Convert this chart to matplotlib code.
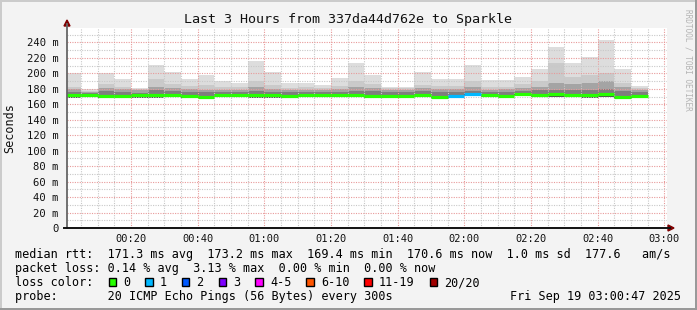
import numpy as np
import matplotlib.pyplot as plt
from matplotlib.patches import Rectangle, Polygon

# --- data (5 minute steps, minutes after 00:00) ---
step_start = np.arange(0, 175, 5)
ping_max = [200.5, 179.5, 200.5, 192.7, 181.0, 210.4, 202.2, 192.7, 198.5, 190.6,
            188.0, 216.4, 202.2, 187.6, 187.0, 184.5, 194.4, 212.8, 198.5, 183.0,
            182.7, 202.4, 192.9, 193.0, 210.6, 191.8, 191.4, 195.8, 206.0, 233.5,
            212.8, 221.8, 243.8, 206.0, 184.0]
ping_2nd = [182.0, 177.5, 186.0, 183.0, 180.0, 192.7, 186.0, 184.0, 185.0, 182.0,
            183.0, 190.0, 185.0, 181.0, 182.0, 181.0, 184.0, 190.4, 186.5, 180.5,
            181.0, 185.0, 184.0, 183.5, 190.0, 182.0, 183.0, 186.0, 190.0, 213.4,
            194.8, 198.0, 200.0, 188.0, 181.0]
ping_upper = [180.0, 176.5, 181.0, 179.5, 178.0, 183.0, 181.0, 180.0, 179.0, 178.5,
              179.0, 182.0, 180.0, 178.0, 178.5, 179.0, 180.0, 182.0, 181.0, 178.5,
              179.0, 181.0, 180.0, 179.5, 182.0, 178.5, 179.5, 181.0, 183.0, 188.0,
              186.0, 187.6, 189.7, 182.4, 179.0]
ping_inner = [176.0, 175.0, 177.0, 176.0, 175.0, 178.0, 177.0, 176.5, 176.0, 175.5,
              175.5, 177.0, 176.5, 175.5, 175.5, 176.0, 176.5, 177.5, 177.0, 175.5,
              176.0, 177.0, 176.5, 176.0, 177.0, 175.5, 176.0, 177.0, 178.0, 179.0,
              178.0, 179.0, 179.5, 177.0, 176.0]
median = [172.2, 171.8, 170.6, 170.6, 171.4, 171.4, 172.6, 170.2, 170.0, 171.8,
          171.6, 171.6, 171.6, 170.8, 171.6, 171.6, 171.6, 171.8, 170.4, 170.4,
          170.6, 172.0, 170.0, 171.2, 173.2, 171.8, 170.8, 172.8, 172.6, 172.8,
          172.4, 171.6, 172.8, 169.4, 170.6]
ping_min = [168.6, 169.0, 168.0, 168.0, 168.8, 168.6, 169.4, 167.8, 167.6, 169.2,
            169.0, 168.8, 168.8, 168.4, 169.0, 169.0, 169.0, 169.0, 168.0, 168.0,
            168.2, 169.4, 167.8, 168.8, 170.4, 169.2, 168.2, 170.2, 169.8, 170.0,
            169.8, 168.8, 170.0, 167.0, 168.2]
loss = [0] * 23 + [1, 1] + [0] * 10

loss_labels = ['0', '1', '2', '3', '4-5', '6-10', '11-19', '20/20']
loss_colors = ['#26ff00', '#00b8ff', '#0059ff', '#7e00ff', '#ff00ff', '#ff5500', '#ff0000', '#a10000']

title = 'Last 3 Hours from 337da44d762e to Sparkle'
rtt_line = 'median rtt:  171.3 ms avg  173.2 ms max  169.4 ms min  170.6 ms now  1.0 ms sd  177.6   am/s'
loss_line = 'packet loss: 0.14 % avg  3.13 % max  0.00 % min  0.00 % now'
probe_line = 'probe:       20 ICMP Echo Pings (56 Bytes) every 300s'
stamp = 'Fri Sep 19 03:00:47 2025'

W, H = 697, 310
MONO = 'DejaVu Sans Mono'


def fx(px):
    return px / W


def fy(py):
    return 1 - py / H


fig = plt.figure(figsize=(W / 100, H / 100), dpi=100)
fig.patch.set_facecolor('#f3f3f3')

x0, x1, y0, y1 = 67, 667, 28, 228
ax = fig.add_axes([fx(x0), fy(y1), (x1 - x0) / W, (y1 - y0) / H])
ax.set_facecolor('white')
ax.set_xlim(0.78, 180.78)
ax.set_ylim(0, 258.7)

t = np.array(step_start)
mn = np.array(ping_min)
# smoke layers, outer to inner
for top, col in [(ping_max, '#dddddd'), (ping_2nd, '#cacaca'),
                 (ping_upper, '#a4a4a4'), (ping_inner, '#7e7e7e'),
                 (median, '#505050')]:
    ax.bar(t, np.array(top) - mn, bottom=mn, width=5, align='edge',
           color=col, linewidth=0, zorder=2)

# grid
for m in np.arange(5, 181, 5):
    major = m % 20 == 0
    ax.axvline(m, color='#e89a9a' if major else '#c8c8c8', lw=0.8,
               ls=(0, (1, 1.2)), zorder=3)
for v in np.arange(10, 259, 10):
    major = v % 20 == 0
    ax.axhline(v, color='#e89a9a' if major else '#c8c8c8', lw=0.8,
               ls=(0, (1, 1.2)), zorder=3)

# median coloured by loss
ax.hlines(median, t, t + 5, colors=[loss_colors[l] for l in loss],
          linewidth=2.3, capstyle='butt', zorder=4)

for s in ax.spines.values():
    s.set_visible(False)

xt = np.arange(20, 181, 20)
ax.set_xticks(xt)
ax.set_xticklabels(['%02d:%02d' % (m // 60, m % 60) for m in xt],
                   fontfamily=MONO, fontsize=7.5)
yt = np.arange(0, 241, 20)
ax.set_yticks(yt)
ax.set_yticklabels(['0'] + ['%d m' % v for v in yt[1:]],
                   fontfamily=MONO, fontsize=7.6)
ax.tick_params(axis='both', length=0, colors='#111111')
ax.tick_params(axis='y', pad=6)
ax.tick_params(axis='x', pad=4)

# axis lines and arrows
fig.add_artist(plt.Line2D([fx(67), fx(67)], [fy(228), fy(24)], color='#666666', lw=1.3))
fig.add_artist(plt.Line2D([fx(64), fx(670)], [fy(228), fy(228)], color='#111111', lw=1.4))
fig.add_artist(Polygon([[fx(64), fy(26)], [fx(70), fy(26)], [fx(67), fy(20)]],
                       closed=True, color='#7f0000'))
fig.add_artist(Polygon([[fx(668), fy(225)], [fx(668), fy(231)], [fx(674), fy(228)]],
                       closed=True, color='#7f0000'))

# titles
fig.text(0.5, fy(19), title, ha='center', va='center', fontfamily=MONO,
         fontsize=9.6, color='#111111')
fig.text(fx(10), fy(128), 'Seconds', rotation=90, ha='center', va='center',
         fontfamily=MONO, fontsize=8.5, color='#111111')
fig.text(fx(688), fy(60), 'RRDTOOL / TOBI OETIKER', rotation=270, ha='center',
         va='center', fontfamily=MONO, fontsize=5.6, color='#b4b4b4')

# legend
fs = 8.5
cw = 7.12
fig.text(fx(15), fy(254.5), rtt_line, ha='left', va='center', fontfamily=MONO, fontsize=fs)
fig.text(fx(15), fy(268.5), loss_line, ha='left', va='center', fontfamily=MONO, fontsize=fs)
fig.text(fx(15), fy(282.5), 'loss color:', ha='left', va='center', fontfamily=MONO, fontsize=fs)
fig.text(fx(15), fy(296.5), probe_line, ha='left', va='center', fontfamily=MONO, fontsize=fs)
fig.text(fx(681), fy(296.5), stamp, ha='right', va='center', fontfamily=MONO, fontsize=fs)

bx = 108.5
for lab, col in zip(loss_labels, loss_colors):
    fig.add_artist(Rectangle((fx(bx), fy(286)), 7.3 / W, 7.6 / H,
                             facecolor=col, edgecolor='black', lw=1.0))
    fig.text(fx(bx + 14.5), fy(282.5), lab, ha='left', va='center',
             fontfamily=MONO, fontsize=fs)
    bx += 29.6 + cw * len(lab)

# 3d frame
fig.add_artist(Rectangle((0, fy(2)), 1, 2 / H, color='#cbcbcb', lw=0))
fig.add_artist(Rectangle((0, 0), 2 / W, 1, color='#cbcbcb', lw=0))
fig.add_artist(Rectangle((0, 0), 1, 2 / H, color='#999999', lw=0))
fig.add_artist(Rectangle((fx(695), 0), 2 / W, 1, color='#999999', lw=0))

fig.savefig('out.png', dpi=100, facecolor=fig.get_facecolor())
plt.close(fig)
